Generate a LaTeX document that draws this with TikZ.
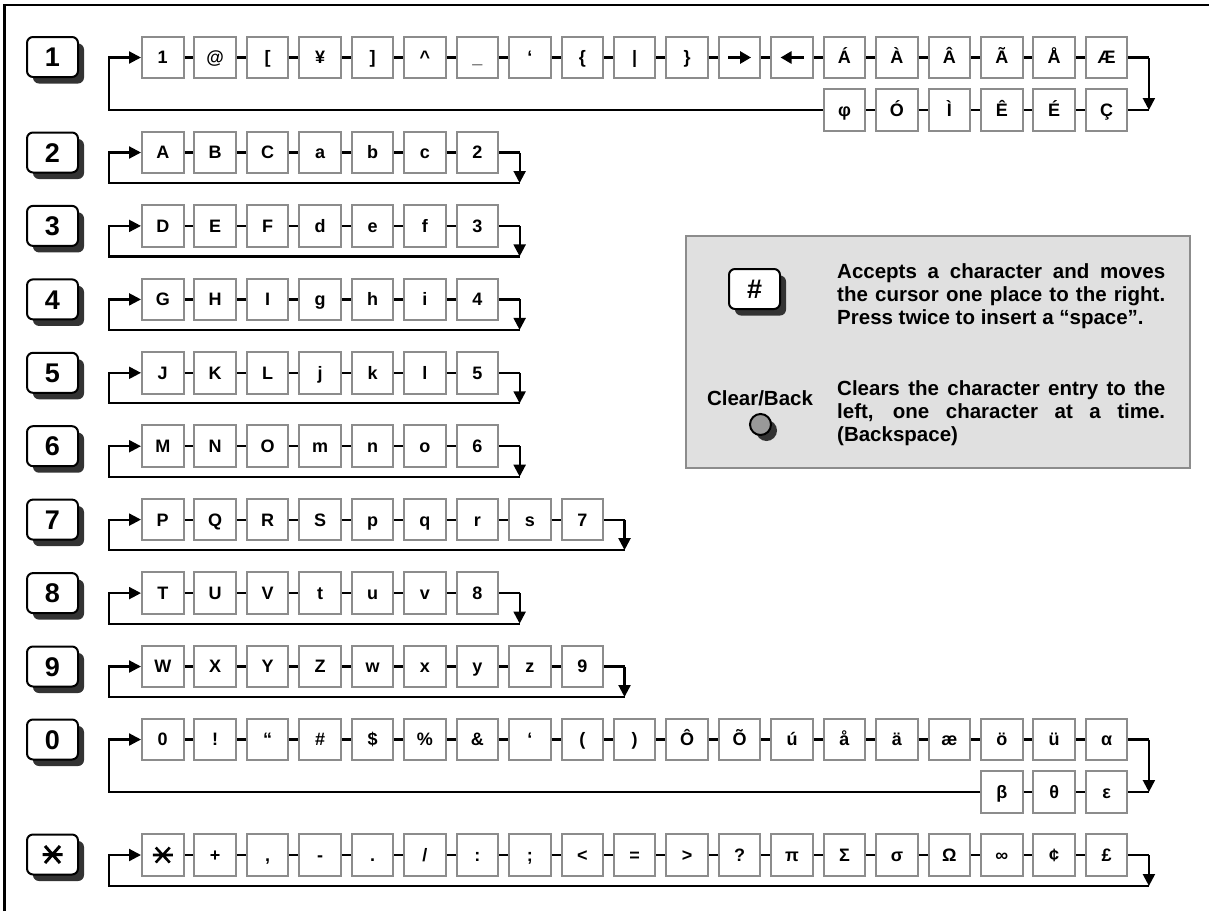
\documentclass[tikz,border=0pt]{standalone}
\usepackage{fontspec}
\setmainfont{Liberation Sans}
\usetikzlibrary{arrows.meta,shadows}
\definecolor{boxgray}{HTML}{8C8C8C}
\definecolor{shadowgray}{HTML}{333333}
\definecolor{infofill}{HTML}{E0E0E0}
\definecolor{btngray}{HTML}{999999}
\newcommand\kbox[4]{\node[cbox] (#1) at ({162.75+52.44*#2},#3) {#4};}
\newcommand\simplerow[3]{\foreach \t [count=\i from 0] in {#3} {\node[cbox] (#1-\i) at ({162.75+52.44*\i},#2) {\t};}}
\newcommand\linkrow[3]{\foreach \i in {#2,...,#3}{\pgfmathtruncatemacro\j{\i+1}\draw[link] (#1-\i) -- (#1-\j);}}
\newcommand\loopback[4]{%
  \coordinate (#1-R) at ({205+52.44*#2},#3);
  \coordinate (#1-RB) at ({205+52.44*#2},#3+#4);
  \coordinate (#1-LB) at (109,#3+#4);
  \draw[link] (#1-#2) -- (#1-R);
  \draw[flow] (#1-R) -- (#1-RB);
  \draw[flow] (#1-RB) -- (#1-LB) |- (#1-0);
}
\begin{document}
\begin{tikzpicture}[x=1pt,y=-1pt,
  cbox/.style={draw=boxgray, line width=2pt, fill=white, minimum width=41.5pt, minimum height=41.5pt, inner sep=0pt, font=\fontsize{18}{18}\selectfont\bfseries, text height=12.9pt, text depth=0pt},
  key/.style={draw=black, line width=2pt, fill=white, rounded corners=6pt, minimum width=51pt, minimum height=40pt, inner sep=0pt, font=\fontsize{27}{27}\selectfont\bfseries, text height=19.3pt, text depth=0pt, drop shadow={shadow xshift=6pt, shadow yshift=-6.5pt, fill=shadowgray, opacity=1}},
  btn/.style={circle, draw=black, line width=2pt, fill=btngray, minimum size=21pt, inner sep=0pt, drop shadow={shadow xshift=6pt, shadow yshift=-6pt, fill=shadowgray, opacity=1}},
  link/.style={draw=black, line width=2.2pt},
  flow/.style={link, -{Triangle[length=12pt,width=12pt]}},
  symarrow/.style={draw=black, line width=2.7pt, -{Triangle[length=11pt,width=12pt]}},
  starline/.style={draw=black, line width=3pt},
  infotext/.style={inner sep=0pt, font=\fontsize{20.5}{23}\selectfont\bfseries},
  infobox/.style={draw=boxgray, line width=2pt, fill=infofill}
]
\fill[white] (0,0) rectangle (1209,911);
\useasboundingbox (0,0) rectangle (1209,911);
% frame
\draw[line width=2.3pt] (4.5,911) -- (4.5,5) -- (1209,5);

% keys
\foreach \k/\y in {1/57, 2/152.5, 3/225.9, 4/299.4, 5/372.8, 6/446.2, 7/519.6, 8/593.1, 9/666.5, 0/739.5}
  {\node[key] (key\k) at (52.5,\y) {\k};}
\node[key] (keystar) at (52.5,854.5) {};
\draw[starline] ([xshift=-10pt]keystar.center) -- ([xshift=10pt]keystar.center)
  ([shift={(-7.5pt,8.5pt)}]keystar.center) -- ([shift={(7.5pt,-8.5pt)}]keystar.center)
  ([shift={(-7.5pt,-8.5pt)}]keystar.center) -- ([shift={(7.5pt,8.5pt)}]keystar.center);

% row 1
\kbox{r1-0}{0}{57.5}{1}
\kbox{r1-1}{1}{57.5}{@}
\kbox{r1-2}{2}{57.5}{[}
\kbox{r1-3}{3}{57.5}{¥}
\kbox{r1-4}{4}{57.5}{]}
\kbox{r1-5}{5}{57.5}{\textasciicircum}
\kbox{r1-6}{6}{57.5}{\_}
\kbox{r1-7}{7}{57.5}{‘}
\kbox{r1-8}{8}{57.5}{\{}
\kbox{r1-9}{9}{57.5}{|}
\kbox{r1-10}{10}{57.5}{\}}
\kbox{r1-11}{11}{57.5}{}
\kbox{r1-12}{12}{57.5}{}
\kbox{r1-13}{13}{57.5}{Á}
\kbox{r1-14}{14}{57.5}{À}
\kbox{r1-15}{15}{57.5}{Â}
\kbox{r1-16}{16}{57.5}{Ã}
\kbox{r1-17}{17}{57.5}{Å}
\kbox{r1-18}{18}{57.5}{Æ}
\draw[symarrow] ([xshift=-11.5pt]r1-11.center) -- ([xshift=11.5pt]r1-11.center);
\draw[symarrow] ([xshift=11.5pt]r1-12.center) -- ([xshift=-11.5pt]r1-12.center);
\kbox{r1b-13}{13}{110}{φ}
\kbox{r1b-14}{14}{110}{Ó}
\kbox{r1b-15}{15}{110}{Ì}
\kbox{r1b-16}{16}{110}{Ê}
\kbox{r1b-17}{17}{110}{É}
\kbox{r1b-18}{18}{110}{Ç}
\linkrow{r1}{0}{17}
\linkrow{r1b}{13}{17}
\coordinate (r1-R) at (1148.9,57.5);
\coordinate (r1-RB) at (1148.9,110);
\coordinate (r1-LB) at (109,110);
\draw[link] (r1-18) -- (r1-R);
\draw[flow] (r1-R) -- (r1-RB);
\draw[link] (r1b-18) -- (r1-RB);
\draw[flow] (r1b-13) -- (r1-LB) |- (r1-0);

% rows 2-9
\simplerow{r2}{152.5}{A,B,C,a,b,c,2}
\simplerow{r3}{225.9}{D,E,F,d,e,f,3}
\simplerow{r4}{299.4}{G,H,I,g,h,i,4}
\simplerow{r5}{372.8}{J,K,L,j,k,l,5}
\simplerow{r6}{446.2}{M,N,O,m,n,o,6}
\simplerow{r7}{519.6}{P,Q,R,S,p,q,r,s,7}
\simplerow{r8}{593.1}{T,U,V,t,u,v,8}
\simplerow{r9}{666.5}{W,X,Y,Z,w,x,y,z,9}
\linkrow{r2}{0}{5} \loopback{r2}{6}{152.5}{30.5}
\linkrow{r3}{0}{5} \loopback{r3}{6}{225.9}{30.5}
\linkrow{r4}{0}{5} \loopback{r4}{6}{299.4}{30.5}
\linkrow{r5}{0}{5} \loopback{r5}{6}{372.8}{30.5}
\linkrow{r6}{0}{5} \loopback{r6}{6}{446.2}{30.5}
\linkrow{r7}{0}{7} \loopback{r7}{8}{519.6}{30.5}
\linkrow{r8}{0}{5} \loopback{r8}{6}{593.1}{30.5}
\linkrow{r9}{0}{7} \loopback{r9}{8}{666.5}{30.5}

% row 0
\kbox{r0-0}{0}{739.5}{0}
\kbox{r0-1}{1}{739.5}{!}
\kbox{r0-2}{2}{739.5}{“}
\kbox{r0-3}{3}{739.5}{\#}
\kbox{r0-4}{4}{739.5}{\$}
\kbox{r0-5}{5}{739.5}{\%}
\kbox{r0-6}{6}{739.5}{\&}
\kbox{r0-7}{7}{739.5}{‘}
\kbox{r0-8}{8}{739.5}{(}
\kbox{r0-9}{9}{739.5}{)}
\kbox{r0-10}{10}{739.5}{Ô}
\kbox{r0-11}{11}{739.5}{Õ}
\kbox{r0-12}{12}{739.5}{ú}
\kbox{r0-13}{13}{739.5}{å}
\kbox{r0-14}{14}{739.5}{ä}
\kbox{r0-15}{15}{739.5}{æ}
\kbox{r0-16}{16}{739.5}{ö}
\kbox{r0-17}{17}{739.5}{ü}
\kbox{r0-18}{18}{739.5}{α}
\kbox{r0b-16}{16}{792}{β}
\kbox{r0b-17}{17}{792}{θ}
\kbox{r0b-18}{18}{792}{ε}
\linkrow{r0}{0}{17}
\linkrow{r0b}{16}{17}
\coordinate (r0-R) at (1148.9,739.5);
\coordinate (r0-RB) at (1148.9,792);
\coordinate (r0-LB) at (109,792);
\draw[link] (r0-18) -- (r0-R);
\draw[flow] (r0-R) -- (r0-RB);
\draw[link] (r0b-18) -- (r0-RB);
\draw[flow] (r0b-16) -- (r0-LB) |- (r0-0);

% star row
\kbox{rs-0}{0}{855}{}
\kbox{rs-1}{1}{855}{+}
\kbox{rs-2}{2}{855}{,}
\kbox{rs-3}{3}{855}{-}
\kbox{rs-4}{4}{855}{.}
\kbox{rs-5}{5}{855}{/}
\kbox{rs-6}{6}{855}{:}
\kbox{rs-7}{7}{855}{;}
\kbox{rs-8}{8}{855}{<}
\kbox{rs-9}{9}{855}{=}
\kbox{rs-10}{10}{855}{>}
\kbox{rs-11}{11}{855}{?}
\kbox{rs-12}{12}{855}{π}
\kbox{rs-13}{13}{855}{Σ}
\kbox{rs-14}{14}{855}{σ}
\kbox{rs-15}{15}{855}{Ω}
\kbox{rs-16}{16}{855}{∞}
\kbox{rs-17}{17}{855}{¢}
\kbox{rs-18}{18}{855}{£}
\draw[starline, line width=2.6pt] ([xshift=-10pt]rs-0.center) -- ([xshift=10pt]rs-0.center)
  ([shift={(-7pt,7.5pt)}]rs-0.center) -- ([shift={(7pt,-7.5pt)}]rs-0.center)
  ([shift={(-7pt,-7.5pt)}]rs-0.center) -- ([shift={(7pt,7.5pt)}]rs-0.center);
\linkrow{rs}{0}{17}
\loopback{rs}{18}{855}{31}

% info box
\draw[infobox] (686,236) rectangle (1190,468);
\node[key] (keyhash) at (754.5,289) {\#};
\node[infotext, anchor=base west] (t11) at (837,278.3) {\makebox[328pt][s]{Accepts a character and moves}};
\node[infotext, anchor=base west] (t12) at (837,301.5) {\makebox[328pt][s]{the cursor one place to the right.}};
\node[infotext, anchor=base west] (t13) at (837,324.7) {Press twice to insert a “space”.};
\node[btn] (clr) at (760.5,424.5) {};
\node[infotext, anchor=base] (clrlbl) at (760,405) {Clear/Back};
\node[infotext, anchor=base west] (t21) at (837,395) {\makebox[328pt][s]{Clears the character entry to the}};
\node[infotext, anchor=base west] (t22) at (837,418) {\makebox[328pt][s]{left, one character at a time.}};
\node[infotext, anchor=base west] (t23) at (837,441) {(Backspace)};
\end{tikzpicture}
\end{document}
